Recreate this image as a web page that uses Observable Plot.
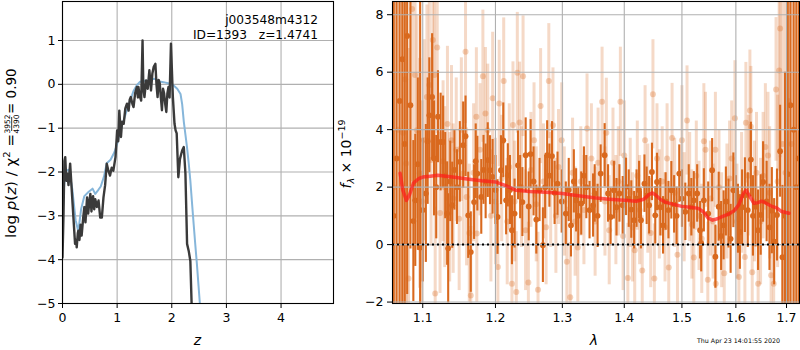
<!DOCTYPE html>
<html><head><meta charset="utf-8">
<script src="https://cdn.jsdelivr.net/npm/d3@7"></script>
<script src="https://cdn.jsdelivr.net/npm/@observablehq/plot@0.6"></script>
<style>
body{margin:0;background:#fff;}
#wrap{position:relative;width:800px;height:350px;font-family:"DejaVu Sans",sans-serif;background:#fff;}
#left,#right,#ov{position:absolute;top:0;}
#left{left:0;} #right{left:340px;} #ov{left:0;pointer-events:none;}
</style></head><body>
<div id="wrap"><div id="left"></div><div id="right"></div>
<svg id="ov" width="800" height="350" xmlns="http://www.w3.org/2000/svg"></svg></div>
<script>
// ---------- left panel: log p(z) ----------
const zTicks = [0, 1, 2, 3, 4];
const pTicks = [-5, -4, -3, -2, -1, 0, 1];
const pzZ = [0.000,0.018,0.035,0.05,0.07,0.09,0.11,0.14,0.17,0.20,0.23,0.25,0.26,0.28,0.29,0.31,0.33,0.35,0.38,0.40,0.42,0.45,0.47,0.49,0.51,0.53,0.54,0.56,0.58,0.60,0.63,0.66,0.69,0.72,0.75,0.78,0.81,0.84,0.87,0.90,0.93,0.97,1.00,1.02,1.04,1.07,1.09,1.12,1.15,1.18,1.21,1.23,1.25,1.28,1.30,1.33,1.36,1.38,1.39,1.41,1.44,1.465,1.48,1.50,1.53,1.56,1.59,1.62,1.645,1.67,1.70,1.72,1.74,1.76,1.78,1.80,1.82,1.84,1.86,1.88,1.90,1.92,1.94,1.96,1.985,2.02,2.05,2.07,2.09,2.12,2.15,2.19,2.22,2.25,2.28,2.31,2.34,2.37];
const pzLog = [-3.95,-3.0,-1.75,-1.66,-2.2,-2.04,-2.3,-1.81,-2.43,-3.04,-3.64,-3.55,-3.72,-3.4,-3.34,-3.55,-3.2,-3.45,-3.03,-2.8,-3.15,-2.58,-2.95,-2.7,-2.5,-2.9,-2.72,-2.55,-2.85,-2.62,-2.8,-2.65,-3.04,-3.04,-2.58,-2.3,-1.81,-1.97,-2.08,-1.9,-1.97,-1.66,-1.05,-1.3,-0.6,-1.2,-0.85,-0.9,-0.55,-0.44,-0.6,-0.35,-0.29,-0.45,-0.52,-0.2,-0.06,-0.3,-0.06,-0.25,-0.37,1.0,-0.1,-0.29,0.09,-0.1,0.32,-0.14,0.25,0.4,0.47,0.0,-0.29,0.1,0.02,-0.3,-0.59,-0.1,-0.21,-0.45,-0.63,-0.2,-0.06,-0.3,0.93,-0.29,-0.9,-1.05,-1.12,-2.12,-1.7,-1.51,-1.43,-2.04,-3.64,-3.8,-4.03,-5.3];
const priorZ = [0,0.03,0.06,0.12,0.18,0.24,0.29,0.34,0.40,0.48,0.55,0.60,0.66,0.70,0.76,0.81,0.88,0.95,1.00,1.06,1.12,1.18,1.24,1.30,1.36,1.42,1.50,1.58,1.65,1.70,1.75,1.85,1.95,2.03,2.10,2.16,2.19,2.22,2.25,2.28,2.31,2.34,2.37,2.40,2.43,2.46,2.49,2.52];
const priorLog = [-3.0,-2.3,-1.97,-1.95,-2.4,-3.1,-3.35,-2.85,-2.55,-2.45,-2.38,-2.5,-2.4,-2.33,-2.1,-1.8,-1.72,-1.55,-1.36,-1.05,-0.82,-0.58,-0.37,-0.15,-0.02,0.06,0.08,0.09,0.12,0.13,0.07,0.05,0.02,-0.02,-0.1,-0.22,-0.45,-0.85,-1.15,-1.45,-1.8,-2.2,-2.7,-3.18,-3.65,-4.1,-4.6,-5.1];

// ---------- right panel: spectrum ----------
const lamTicks = [1.1, 1.2, 1.3, 1.4, 1.5, 1.6, 1.7];
const fTicks = [-2, 0, 2, 4, 6, 8];
const darkWave = [1.0625,1.0660,1.0700,1.0734,1.0765,1.0797,1.0839,1.0877,1.0902,1.0935,1.0966,1.1000,1.1041,1.1065,1.1087,1.1124,1.1150,1.1179,1.1202,1.1238,1.1271,1.1300,1.1326,1.1340,1.1368,1.1395,1.1425,1.1460,1.1499,1.1546,1.1578,1.1615,1.1651,1.1697,1.1720,1.1743,1.1798,1.1830,1.1860,1.1890,1.1922,1.1959,1.2000,1.2030,1.2079,1.2113,1.2154,1.2179,1.2210,1.2239,1.2278,1.2328,1.2360,1.2393,1.2442,1.2487,1.2516,1.2560,1.2601,1.2650,1.2701,1.2735,1.2766,1.2800,1.2840,1.2880,1.2925,1.2990,1.3054,1.3100,1.3135,1.3180,1.3216,1.3250,1.3297,1.3340,1.3378,1.3430,1.3487,1.3513,1.3560,1.3610,1.3675,1.3731,1.3773,1.3828,1.3870,1.3919,1.3974,1.4030,1.4075,1.4118,1.4166,1.4207,1.4250,1.4282,1.4342,1.4380,1.4423,1.4471,1.4529,1.4559,1.4617,1.4665,1.4710,1.4760,1.4811,1.4860,1.4905,1.4952,1.5000,1.5061,1.5123,1.5170,1.5215,1.5276,1.5330,1.5350,1.5399,1.5479,1.5552,1.5613,1.5675,1.5720,1.5767,1.5810,1.5860,1.5900,1.5952,1.6000,1.6040,1.6077,1.6120,1.6174,1.6230,1.6290,1.6330,1.6381,1.6430,1.6483,1.6530,1.6600,1.6657,1.6704,1.6750,1.6807,1.6870,1.6917,1.6970,1.7026,1.7080,1.7146,1.7200,1.7250];
const darkFlux = [1.0,3.0,5.0,6.45,3.5,7.26,4.85,0.82,1.54,2.8,-0.10,1.2,1.78,3.6,4.50,5.14,3.0,2.0,4.45,3.57,3.57,2.4,1.08,-0.13,2.2,1.37,2.6,2.0,2.88,3.46,3.77,1.02,-0.26,1.48,2.9,2.47,1.66,2.6,2.2,2.94,2.59,2.36,1.9,0.96,2.59,3.63,1.54,2.41,1.9,0.50,1.08,2.76,2.0,1.48,3.11,1.33,3.15,2.2,0.87,1.9,-0.02,2.0,3.11,2.4,3.08,1.8,2.12,1.5,1.08,1.9,0.67,2.2,1.54,1.0,1.43,2.4,2.0,1.2,1.36,1.78,1.0,2.47,3.11,1.78,0.96,1.89,1.3,1.78,1.37,2.01,1.6,1.22,0.85,1.60,1.9,0.85,2.12,1.7,1.37,2.53,1.02,2.18,1.30,0.67,1.5,1.2,1.89,1.4,1.0,2.47,1.6,1.14,1.78,1.3,1.54,1.78,0.5,0.05,1.54,1.08,2.59,-0.42,1.32,0.3,0.67,1.5,1.08,0.2,1.89,1.2,0.9,0.44,1.3,1.72,1.2,2.96,1.0,1.32,0.5,1.03,2.18,1.5,0.60,1.18,0.1,1.03,3.25,-0.44,1.0,2.45,4.85,4.0,2.0,3.0];
const darkErr = [12,12,10,10,9,9,5,2.8,2.3,3,9,2.5,2.4,2.2,2.0,2.2,2.0,1.8,1.6,1.7,1.6,1.5,1.8,1.9,1.4,1.5,1.4,1.3,1.4,1.5,1.4,1.5,1.4,1.3,1.3,1.3,1.3,1.2,1.3,1.3,1.2,1.3,1.2,1.3,1.2,1.3,1.2,1.1,1.2,1.2,1.2,1.2,1.1,1.2,1.3,1.2,1.2,1.2,1.2,1.1,1.3,1.1,1.2,1.1,1.2,1.1,1.1,1.1,1.1,1.1,1.1,1.1,1.1,1.0,1.1,1.0,1.1,1.0,1.1,1.0,1.1,1.0,1.1,1.0,1.0,1.0,1.0,1.0,1.0,1.0,1.0,1.0,1.0,1.0,1.0,1.0,1.0,1.0,1.0,1.0,1.0,1.0,1.0,1.0,1.0,1.0,1.0,1.0,1.0,1.0,1.0,1.0,1.0,1.0,1.0,1.0,1.0,1.0,1.1,1.1,1.1,1.1,1.2,1.2,1.2,1.2,1.2,1.2,1.3,1.2,1.2,1.3,1.3,1.3,1.3,1.3,1.4,1.4,1.4,1.4,1.4,1.4,1.5,1.5,1.5,1.6,1.6,2.5,5,9,9,9,10,10,10];
const lightWave = [1.0625,1.0680,1.0743,1.0772,1.0784,1.0814,1.0861,1.0899,1.0924,1.0960,1.0990,1.1018,1.1055,1.1087,1.1110,1.1133,1.1155,1.1165,1.1192,1.1230,1.1271,1.1293,1.1330,1.1360,1.1385,1.1408,1.1450,1.1490,1.1520,1.1546,1.1578,1.1592,1.1630,1.1651,1.1690,1.1729,1.1735,1.1780,1.1821,1.1857,1.1890,1.1935,1.1960,1.2000,1.2035,1.2054,1.2090,1.2119,1.2170,1.2200,1.2239,1.2254,1.2280,1.2303,1.2318,1.2352,1.2380,1.2403,1.2440,1.2482,1.2520,1.2567,1.2600,1.2627,1.2666,1.2710,1.2750,1.2791,1.2820,1.2855,1.2900,1.2940,1.2990,1.3030,1.3070,1.3123,1.3160,1.3200,1.3243,1.3290,1.3340,1.3390,1.3460,1.3520,1.3568,1.3633,1.3680,1.3703,1.3750,1.3812,1.3860,1.3900,1.3935,1.3980,1.4000,1.4060,1.4100,1.4140,1.4176,1.4220,1.4260,1.4304,1.4353,1.4400,1.4450,1.4489,1.4513,1.4559,1.4600,1.4650,1.4700,1.4736,1.4765,1.4824,1.4870,1.4920,1.5000,1.5040,1.5092,1.5140,1.5180,1.5215,1.5260,1.5310,1.5360,1.5399,1.5429,1.5472,1.5520,1.5570,1.5613,1.5620,1.5680,1.5730,1.5779,1.5830,1.5880,1.5920,1.5982,1.6020,1.6058,1.6110,1.6174,1.6193,1.6240,1.6271,1.6290,1.6316,1.6360,1.6400,1.6432,1.6480,1.6530,1.6575,1.6627,1.6660,1.6689,1.6741,1.6788,1.6820,1.6851,1.6870,1.6920,1.6980,1.7040,1.7100];
const lightFlux = [2.0,4.0,3.89,5.75,2.82,-1.18,8.2,5.9,3.98,2.48,1.5,3.63,5.14,5.55,2.94,7.12,5.9,-1.7,6.86,1.1,2.9,2.0,4.2,1.3,3.63,1.6,3.3,0.9,4.0,2.47,6.71,1.66,0.4,-1.77,2.5,4.45,0.39,3.3,5.86,4.56,3.98,1.0,5.09,1.5,-0.78,4.91,2.3,5.69,0.8,2.7,-1.36,4.16,1.5,-1.65,5.98,4.25,2.0,5.86,0.5,-1.32,2.6,3.63,1.4,-1.57,4.82,2.2,0.6,5.69,1.9,4.15,1.0,2.7,3.63,1.5,-0.6,-1.83,2.5,0.8,-0.1,2.2,1.2,4.04,3.0,0.8,2.85,4.97,1.5,3.89,0.5,2.85,1.2,2.2,4.97,0.3,3.1,-1.16,1.8,0.6,-0.2,2.4,1.2,-0.9,3.63,1.6,0.4,5.23,-1.18,3.0,1.4,2.2,0.6,3.0,-0.8,3.71,1.8,-0.35,3.63,1.3,4.32,2.0,0.7,-0.45,2.4,1.0,0.2,3.6,3.3,-1.22,1.6,0.8,3.3,-1.36,2.0,0.5,-1.0,1.5,2.3,3.0,4.4,0.8,-1.13,1.8,-0.43,4.24,2.4,4.67,4.1,-0.96,1.5,2.5,-1.36,0.8,2.4,3.4,3.1,1.8,-1.07,-1.36,5.4,2.2,6.06,7.52,3.5,2.5,5.0,3.5];
const lightErr = [12,12,10,9,9,8,6,5,4,4,3.5,3.5,3.2,3.0,3.0,3.0,3.0,3.0,3.0,2.8,2.8,2.8,2.7,2.6,2.6,2.6,2.5,2.5,2.5,2.5,2.5,2.4,2.4,2.4,2.4,2.4,2.4,2.3,2.3,2.3,2.3,2.3,2.3,2.2,2.2,2.2,2.2,2.2,2.2,2.2,2.2,2.2,2.1,2.1,2.1,2.1,2.1,2.1,2.1,2.1,2.0,2.0,2.0,2.0,2.0,2.0,2.0,2.0,2.0,2.0,2.0,2.0,2.0,1.9,1.9,1.9,1.9,1.9,1.9,1.9,1.9,1.9,1.9,1.9,1.9,1.9,1.9,1.9,1.9,1.9,1.9,1.9,1.9,1.9,1.9,1.9,1.9,1.9,1.9,1.9,1.9,1.9,1.9,1.9,1.9,1.9,1.9,1.9,1.9,1.9,1.9,1.9,1.9,1.9,1.9,1.9,1.9,1.9,1.9,1.9,1.9,1.9,1.9,1.9,1.9,2.0,2.0,2.0,2.0,2.0,2.0,2.0,2.0,2.0,2.0,2.0,2.0,2.0,2.0,2.0,2.0,2.1,2.1,2.1,2.1,2.1,2.1,2.1,2.1,2.1,2.2,2.2,2.2,2.2,2.2,2.3,2.3,2.4,2.5,3.0,3.5,4.5,6,9,10,10,10];
const modelWave = [1.0706,1.0740,1.0787,1.0830,1.0880,1.0950,1.1000,1.1100,1.1200,1.1400,1.1600,1.1800,1.2000,1.2150,1.2300,1.2500,1.2750,1.3000,1.3250,1.3500,1.3750,1.4000,1.4200,1.4330,1.4420,1.4480,1.4540,1.4620,1.4700,1.4850,1.5000,1.5150,1.5300,1.5400,1.5480,1.5560,1.5650,1.5750,1.5870,1.5980,1.6060,1.6150,1.6200,1.6260,1.6350,1.6430,1.6500,1.6580,1.6680,1.6800,1.6900,1.7050];
const modelFlux = [2.48,1.9,1.54,1.75,2.15,2.30,2.35,2.38,2.41,2.35,2.28,2.22,2.18,2.05,1.89,1.85,1.82,1.78,1.70,1.63,1.58,1.54,1.51,1.58,1.74,1.80,1.72,1.57,1.48,1.40,1.33,1.30,1.26,1.12,0.92,0.85,0.90,0.98,1.07,1.20,1.40,1.80,1.89,1.70,1.44,1.46,1.51,1.45,1.35,1.28,1.15,1.09];

// ---------- texts ----------
const objName = "j003548m4312";
const objInfo = "ID=1393   z=1.4741";
const chiNum = "3952", chiDen = "4390", chiVal = "= 0.90";
const stamp = "Thu Apr 23 14:01:55 2020";

const minus = d => String(d).replace("-", "\u2212");
const pz = pzZ.map((z, i) => ({z, v: pzLog[i]}));
const prior = priorZ.map((z, i) => ({z, v: priorLog[i]}));
const dark = darkWave.map((w, i) => ({w, f: darkFlux[i], e: darkErr[i]}));
const light = lightWave.map((w, i) => ({w, f: lightFlux[i], e: lightErr[i]}));
const model = modelWave.map((w, i) => ({w, f: modelFlux[i]}));
const style = {fontFamily: "DejaVu Sans", fontSize: "12.5px", color: "black", background: "white", overflow: "visible"};
const gridC = "#b0b0b0";
const orange = "#d9691e";

const leftPlot = Plot.plot({
  width: 340, height: 350, marginLeft: 62, marginRight: 7, marginTop: 1, marginBottom: 47,
  style,
  x: {domain: [0, 4.96]},
  y: {domain: [-5, 1.89]},
  marks: [
    Plot.gridX({ticks: zTicks, stroke: gridC, strokeOpacity: 1, strokeWidth: 1.1}),
    Plot.gridY({ticks: pTicks, stroke: gridC, strokeOpacity: 1, strokeWidth: 1.1}),
    Plot.line(prior, {x: "z", y: "v", stroke: "#86b6da", strokeWidth: 2, clip: true}),
    Plot.line(pz, {x: "z", y: "v", stroke: "#3a3a3a", strokeWidth: 2.4, clip: true}),
    Plot.axisX({ticks: zTicks, tickSize: 5, tickPadding: 5, tickFormat: minus, label: null}),
    Plot.axisY({ticks: pTicks, tickSize: 4, tickPadding: 3, tickFormat: minus, label: null}),
    Plot.frame({stroke: "black", strokeWidth: 1.1})
  ]
});
document.getElementById("left").append(leftPlot);

const rightPlot = Plot.plot({
  width: 460, height: 350, marginLeft: 52, marginRight: 1, marginTop: 1, marginBottom: 47,
  style,
  x: {type: "log", domain: [1.0609, 1.7266]},
  y: {domain: [-2.05, 8.46]},
  marks: [
    Plot.ruleX(light, {x: "w", y1: d => d.f - d.e, y2: d => d.f + d.e, stroke: orange, strokeOpacity: 0.25, strokeWidth: 3, clip: true}),
    Plot.dot(light, {x: "w", y: "f", r: 3, fill: orange, fillOpacity: 0.3, clip: true}),
    Plot.ruleX(dark, {x: "w", y1: d => d.f - d.e, y2: d => d.f + d.e, stroke: orange, strokeWidth: 2.1, clip: true}),
    Plot.dot(dark, {x: "w", y: "f", r: 2.9, fill: orange, clip: true}),
    Plot.gridX({ticks: lamTicks, stroke: gridC, strokeOpacity: 1, strokeWidth: 1.1}),
    Plot.gridY({ticks: fTicks, stroke: gridC, strokeOpacity: 1, strokeWidth: 1.1}),
    Plot.line(model, {x: "w", y: "f", stroke: "#ff1a1a", strokeOpacity: 0.7, strokeWidth: 3.5, clip: true}),
    Plot.ruleY([0], {stroke: "black", strokeWidth: 2, strokeDasharray: "2,3"}),
    Plot.axisX({ticks: lamTicks, tickSize: 5, tickPadding: 5, tickFormat: d => d.toFixed(1), label: null}),
    Plot.axisY({ticks: fTicks, tickSize: 5, tickPadding: 4, tickFormat: minus, label: null}),
    Plot.frame({stroke: "black", strokeWidth: 1.1})
  ]
});
document.getElementById("right").append(rightPlot);

// ---------- overlay labels ----------
const ov = d3.select("#ov").attr("font-family", "DejaVu Sans").attr("fill", "black");
ov.append("text").attr("x", 318).attr("y", 24).attr("text-anchor", "end").attr("font-size", 12.2).text(objName);
ov.append("text").attr("x", 318).attr("y", 39).attr("text-anchor", "end").attr("font-size", 12.2).style("white-space", "pre").text(objInfo);
ov.append("text").attr("x", 197.5).attr("y", 345).attr("text-anchor", "middle").attr("font-size", 14).attr("font-style", "italic").text("z");
ov.append("text").attr("x", 594).attr("y", 345).attr("text-anchor", "middle").attr("font-size", 14).attr("font-style", "italic").text("\u03bb");
ov.append("text").attr("x", 697).attr("y", 343).attr("font-size", 6.3).text(stamp);

// left y label
const g = ov.append("g").attr("transform", "translate(16,0) rotate(-90)");
const t1 = g.append("text").attr("x", -238).attr("y", 0).attr("font-size", 13.5)
  .attr("textLength", 104).attr("lengthAdjust", "spacingAndGlyphs");
t1.append("tspan").text("log ");
t1.append("tspan").attr("font-style", "italic").text("p");
t1.append("tspan").text("(");
t1.append("tspan").attr("font-style", "italic").text("z");
t1.append("tspan").text(") / \u03c7");
t1.append("tspan").attr("font-size", 9).attr("dy", -6).text("2");
t1.append("tspan").attr("dy", 6).text(" =");
g.append("text").attr("x", -124).attr("y", -6).attr("text-anchor", "middle").attr("font-size", 7.5).text(chiNum);
g.append("line").attr("x1", -131).attr("x2", -117).attr("y1", -4.3).attr("y2", -4.3).attr("stroke", "black").attr("stroke-width", 0.8);
g.append("text").attr("x", -124).attr("y", 2.5).attr("text-anchor", "middle").attr("font-size", 7.5).text(chiDen);
g.append("text").attr("x", -114).attr("y", 0).attr("font-size", 13.5).text(chiVal);

// right y label
const t2 = ov.append("text").attr("transform", "translate(351,154) rotate(-90)").attr("text-anchor", "middle").attr("font-size", 14);
t2.append("tspan").attr("font-style", "italic").text("f");
t2.append("tspan").attr("font-style", "italic").attr("font-size", 9.5).attr("dy", 3).text("\u03bb");
t2.append("tspan").attr("dy", -3).text(" \u00d7 10");
t2.append("tspan").attr("font-size", 9.5).attr("dy", -6).text("\u221219");
</script>
</body></html>
